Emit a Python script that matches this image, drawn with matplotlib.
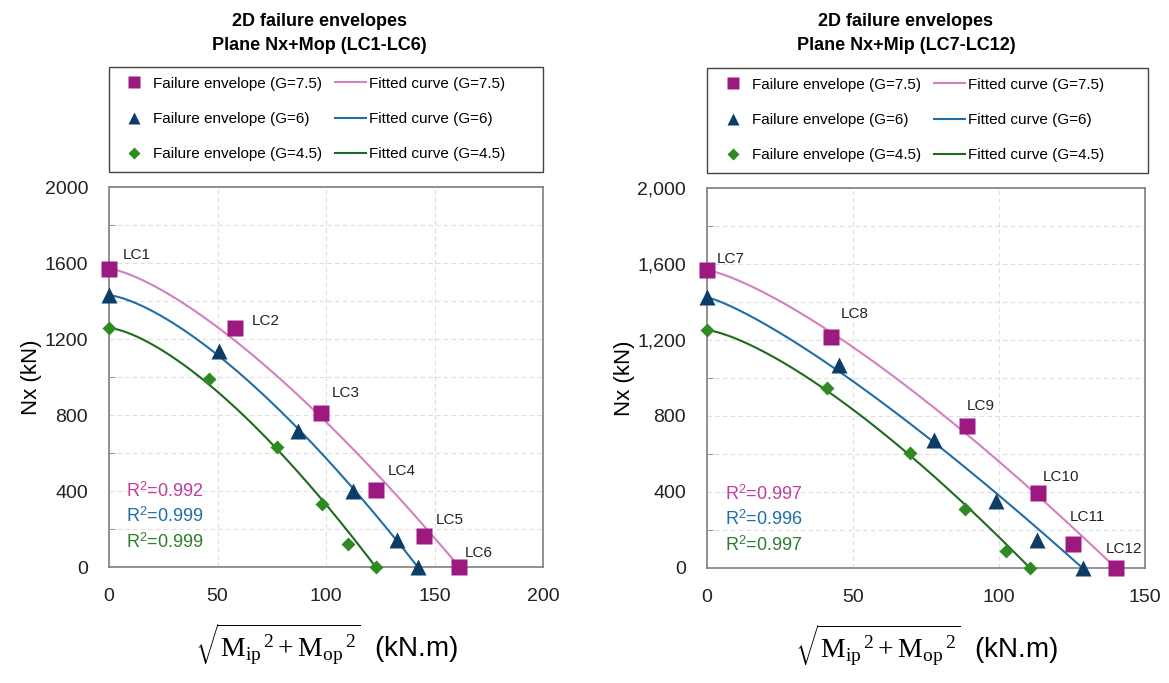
import numpy as np
import matplotlib.pyplot as plt
from matplotlib.lines import Line2D
from matplotlib.patches import Rectangle

plt.rcParams['font.family'] = ['Liberation Sans', 'DejaVu Sans']
plt.rcParams['mathtext.fontset'] = 'custom'
plt.rcParams['mathtext.rm'] = 'Liberation Serif'
plt.rcParams['mathtext.it'] = 'Liberation Serif:italic'

# Plane Nx+Mop (LC1-LC6)
mop_x_75 = [0, 58.2, 97.7, 123.2, 145.0, 161.5]
mop_y_75 = [1570, 1258, 812, 403, 161, 0]
mop_x_6 = [0, 50.8, 86.9, 112.5, 132.8, 142.3]
mop_y_6 = [1430, 1135, 714, 400, 140, 0]
mop_x_45 = [0, 46.2, 77.2, 98.3, 110.3, 122.9]
mop_y_45 = [1258, 991, 632, 333, 119, 0]
mop_lc = ['LC1', 'LC2', 'LC3', 'LC4', 'LC5', 'LC6']
mop_r2 = ['0.992', '0.999', '0.999']

# Plane Nx+Mip (LC7-LC12)
mip_x_75 = [0, 42.6, 89.1, 113.4, 125.5, 140.0]
mip_y_75 = [1567, 1214, 749, 393, 128, 0]
mip_x_6 = [0, 45.3, 77.9, 99.1, 113.1, 128.6]
mip_y_6 = [1424, 1069, 676, 351, 148, 0]
mip_x_45 = [0, 41.1, 69.5, 88.3, 102.5, 110.6]
mip_y_45 = [1252, 947, 603, 309, 89, 0]
mip_lc = ['LC7', 'LC8', 'LC9', 'LC10', 'LC11', 'LC12']
mip_r2 = ['0.997', '0.996', '0.997']

pt_col = ['#9c1a80', '#0d3c66', '#2f8a24']
fit_col = ['#d47fbe', '#1f6ea6', '#1e6a1e']
r2_col = ['#c23c9c', '#1f6ea6', '#2e7d2e']
mk = ['s', '^', 'D']
ms = [11, 11, 7.5]
names = ['G=7.5', 'G=6', 'G=4.5']

fig = plt.figure(figsize=(11.69, 6.83), dpi=100)
W, H = 1169, 683


def px(x0, y0, x1, y1):
    return [x0 / W, 1 - y1 / H, (x1 - x0) / W, (y1 - y0) / H]


def fit_envelope(x, y):
    # N = N0 * (1 - (M/M0)^p), least squares on p
    n0, m0 = y[0], x[-1]
    ps = np.linspace(1.0, 4.0, 601)
    err = [np.sum((n0 * (1 - (x / m0) ** p) - y) ** 2) for p in ps]
    p = ps[int(np.argmin(err))]
    xx = np.linspace(0, m0, 150)
    return xx, n0 * (1 - (xx / m0) ** p)


def panel(rect, xs, ys, lcs, lc_off, r2, r2_pos, xmax, title, comma, title_x, box, leg_anchor):
    ax = fig.add_axes(px(*rect))
    for i in range(3):
        x = np.array(xs[i], float); y = np.array(ys[i], float)
        xx, yy = fit_envelope(x, y)
        ax.plot(xx, yy, color=fit_col[i], lw=1.5, zorder=2)
        ax.plot(x, y, mk[i], color=pt_col[i], ms=ms[i], mec='none', zorder=3, clip_on=False)
    for j, lab in enumerate(lcs):
        ax.annotate(lab, (xs[0][j], ys[0][j]), xytext=lc_off[j], textcoords='offset points',
                    fontsize=11, va='center', ha='left', color='#222222')
    for i in range(3):
        ax.text(r2_pos[0], r2_pos[1] - i * 0.067, r'R$^\mathregular{2}$=' + r2[i], transform=ax.transAxes,
                color=r2_col[i], fontsize=13, va='center', ha='left')
    ax.set_xlim(0, xmax)
    ax.set_ylim(0, 2000)
    ax.set_xticks(np.arange(0, xmax + 1, 50))
    ax.set_yticks(np.arange(0, 2001, 400))
    ax.set_yticks(np.arange(200, 2000, 400), minor=True)
    if comma:
        ax.yaxis.set_major_formatter(plt.FuncFormatter(lambda v, p: f'{int(v):,}'))
    ax.grid(True, which='both', ls=(0, (4, 3)), color='#dddddd', lw=0.8)
    ax.tick_params(which='major', length=0, labelsize=14, colors='#222222')
    ax.tick_params(axis='y', which='major', pad=15)
    ax.tick_params(axis='x', which='major', pad=15)
    ax.tick_params(which='minor', length=4, direction='in', color='#888888')
    for s in ax.spines.values():
        s.set_color('#7f7f7f')
        s.set_linewidth(1.2)
    ax.set_ylabel('Nx (kN)', fontsize=16, labelpad=2)
    ax.set_xlabel(r'$\sqrt{\mathrm{M_{ip}}^{\,2}+\mathrm{M_{op}}^{\,2}}$' + '  (kN.m)', fontsize=20, labelpad=12)
    fig.text(title_x / W, 1 - 33.5 / H, title, ha='center', va='center', fontsize=13,
             fontweight='bold', linespacing=1.5)
    handles = [Line2D([], [], ls='none', marker=mk[i], color=pt_col[i], ms=ms[i] * 0.8, mec='none')
               for i in range(3)]
    handles += [Line2D([], [], color=fit_col[i], lw=1.5) for i in range(3)]
    labels = ['Failure envelope (' + n + ')' for n in names] + ['Fitted curve (' + n + ')' for n in names]
    fig.legend(handles, labels, ncol=2, loc='center left',
               bbox_to_anchor=(leg_anchor[0] / W, 1 - leg_anchor[1] / H),
               fontsize=11, frameon=False, labelspacing=1.4, columnspacing=0.9, handlelength=2.0,
               handletextpad=0.2, borderpad=0, borderaxespad=0)
    fig.patches.append(Rectangle((box[0] / W, 1 - box[3] / H), (box[2] - box[0]) / W, (box[3] - box[1]) / H,
                                 transform=fig.transFigure, fill=False, ec='#444444', lw=1.0))
    return ax


panel((109, 187, 543, 567), [mop_x_75, mop_x_6, mop_x_45], [mop_y_75, mop_y_6, mop_y_45],
      mop_lc, [(10, 10), (12, 5), (8, 14), (8, 14), (9, 12), (4, 10)],
      mop_r2, (0.04, 0.20), 200, '2D failure envelopes\nPlane Nx+Mop (LC1-LC6)', False, 319,
      (109, 67, 543, 172), (119, 119))
panel((707, 188, 1145, 568), [mip_x_75, mip_x_6, mip_x_45], [mip_y_75, mip_y_6, mip_y_45],
      mip_lc, [(7, 8), (7, 17), (0, 14), (3, 12), (-3, 19), (-7, 14)],
      mip_r2, (0.04, 0.195), 150, '2D failure envelopes\nPlane Nx+Mip (LC7-LC12)', True, 906,
      (707, 68, 1148, 173), (718, 120))

fig.savefig('out.png', dpi=100)
